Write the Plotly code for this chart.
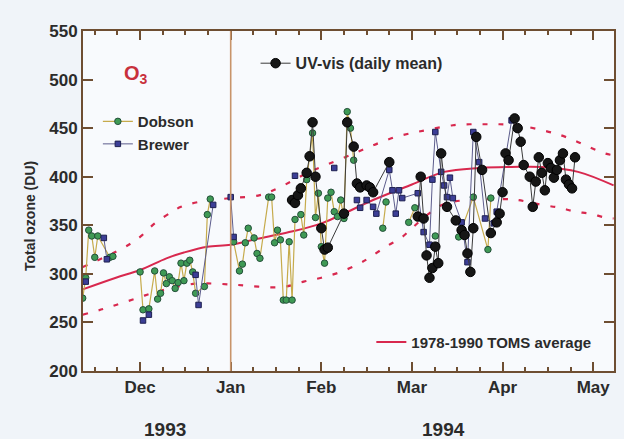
import datetime
import calendar
import plotly.graph_objects as go

# ---------------- data ----------------
dobson_dates = [
    "1993-11-12", "1993-11-13", "1993-11-14", "1993-11-15", "1993-11-16", "1993-11-17",
    "1993-11-21", "1993-11-22",
    "1993-12-01", "1993-12-02", "1993-12-04", "1993-12-06", "1993-12-07", "1993-12-08",
    "1993-12-09", "1993-12-10", "1993-12-11", "1993-12-12", "1993-12-13", "1993-12-14",
    "1993-12-15", "1993-12-16", "1993-12-17", "1993-12-18", "1993-12-19", "1993-12-20",
    "1993-12-23", "1993-12-24", "1993-12-25",
    "1994-01-02", "1994-01-04", "1994-01-05", "1994-01-06", "1994-01-07", "1994-01-09",
    "1994-01-10", "1994-01-11", "1994-01-14", "1994-01-15", "1994-01-16", "1994-01-17",
    "1994-01-18", "1994-01-19", "1994-01-20", "1994-01-21", "1994-01-22", "1994-01-23",
    "1994-01-25", "1994-01-26", "1994-01-27", "1994-01-29", "1994-01-30", "1994-01-31",
    "1994-02-01", "1994-02-02", "1994-02-03", "1994-02-04", "1994-02-05", "1994-02-06",
    "1994-02-07", "1994-02-08", "1994-02-09", "1994-02-10", "1994-02-11",
    "1994-02-20", "1994-02-21", "1994-02-28", "1994-03-02",
    "1994-03-09", "1994-03-17", "1994-03-22", "1994-03-27", "1994-03-28",
]
dobson_values = [
    275, 296, 345, 339, 317, 339,
    317, 318,
    302, 263, 264, 303, 274, 280,
    301, 290, 297, 293, 285, 291,
    311, 293, 311, 314, 302, 280,
    287, 361, 377,
    333, 303, 310, 332, 347, 337,
    321, 316, 379, 379, 332, 345,
    335, 273, 273, 333, 273, 356,
    361, 340, 397, 445, 358, 383,
    328, 311, 378, 384, 364, 359,
    376, 357, 467, 450, 417,
    347, 374, 353, 368,
    339, 338, 379, 325, 378,
]

brewer_dates = [
    "1993-11-13", "1993-11-19", "1993-11-20",
    "1993-12-02", "1993-12-04", "1993-12-20", "1993-12-21", "1993-12-26",
    "1994-01-01", "1994-01-02", "1994-01-23",
    "1994-02-05", "1994-02-12", "1994-02-13", "1994-02-15", "1994-02-17", "1994-02-18",
    "1994-02-22", "1994-02-23", "1994-02-24", "1994-02-25", "1994-02-26",
    "1994-03-03", "1994-03-05", "1994-03-07", "1994-03-08", "1994-03-09", "1994-03-11",
    "1994-03-12", "1994-03-13", "1994-03-14", "1994-03-15", "1994-03-18", "1994-03-20",
    "1994-03-22", "1994-03-24", "1994-03-26", "1994-03-29", "1994-03-30", "1994-04-04",
]
brewer_values = [
    292, 337, 315,
    252, 258, 299, 268, 371,
    379, 338, 401,
    409, 376, 368, 376, 369, 362,
    407, 386, 362, 386, 378,
    383, 343, 330, 397, 446, 405,
    391, 379, 399, 378, 353, 312,
    446, 415, 357, 352, 364, 458,
]

uvvis_dates = [
    "1994-01-22", "1994-01-23", "1994-01-24", "1994-01-25", "1994-01-27", "1994-01-28",
    "1994-01-29", "1994-01-30", "1994-02-01", "1994-02-02", "1994-02-03",
    "1994-02-08", "1994-02-09", "1994-02-11", "1994-02-12", "1994-02-13", "1994-02-15",
    "1994-02-16", "1994-02-17", "1994-02-22",
    "1994-03-03", "1994-03-04", "1994-03-05", "1994-03-06", "1994-03-07", "1994-03-08",
    "1994-03-09", "1994-03-10", "1994-03-11", "1994-03-13", "1994-03-16", "1994-03-18",
    "1994-03-19", "1994-03-20", "1994-03-21", "1994-03-22", "1994-03-23", "1994-03-25",
    "1994-03-28", "1994-03-30", "1994-03-31",
    "1994-04-01", "1994-04-02", "1994-04-03", "1994-04-05", "1994-04-06", "1994-04-07",
    "1994-04-08", "1994-04-10", "1994-04-11", "1994-04-12", "1994-04-13", "1994-04-14",
    "1994-04-15", "1994-04-16", "1994-04-17", "1994-04-18", "1994-04-19", "1994-04-20",
    "1994-04-21", "1994-04-22", "1994-04-23", "1994-04-24", "1994-04-25",
]
uvvis_values = [
    376, 373, 381, 388, 404, 421,
    456, 400, 347, 325, 327,
    362, 456, 431, 393, 389, 391,
    389, 384, 415,
    359, 400, 357, 319, 296, 306,
    328, 311, 424, 369, 355, 345,
    340, 321, 302, 347, 441, 407,
    342, 353, 362,
    384, 424, 417, 460, 450, 436,
    412, 400, 369, 395, 420, 404,
    386, 414, 409, 399, 407, 417,
    424, 397, 392, 388, 420,
]

toms_mean_dates = [
    "1993-11-12", "1993-11-23", "1993-12-01", "1993-12-10", "1993-12-16", "1993-12-24",
    "1994-01-01", "1994-01-10", "1994-01-21", "1994-02-01", "1994-02-17", "1994-03-01",
    "1994-03-12", "1994-03-24", "1994-04-04", "1994-04-14", "1994-04-26", "1994-05-08",
]
toms_mean_values = [
    284, 296, 304, 316, 322, 328,
    330, 336, 343, 352, 376, 392,
    405, 409, 410, 410, 405, 391,
]

toms_upper_dates = [
    "1993-11-12", "1993-11-25", "1993-12-01", "1993-12-06", "1993-12-12", "1993-12-15",
    "1993-12-21", "1994-01-01", "1994-01-11", "1994-01-17", "1994-01-28", "1994-02-01",
    "1994-02-14", "1994-02-19", "1994-02-24", "1994-03-01", "1994-03-06", "1994-03-15",
    "1994-03-21", "1994-03-26", "1994-03-31", "1994-04-06", "1994-04-14", "1994-04-20",
    "1994-04-25", "1994-04-30", "1994-05-05", "1994-05-08",
]
toms_upper_values = [
    307, 326, 338, 352, 364, 369,
    374, 378, 381, 388, 405, 410,
    428, 435, 441, 445, 448, 453,
    454, 454, 454, 453, 448, 443,
    437, 430, 424, 422,
]

toms_lower_dates = [
    "1993-11-12", "1993-11-19", "1993-11-25", "1993-12-01", "1993-12-06", "1993-12-20",
    "1993-12-26", "1994-01-01", "1994-01-06", "1994-01-15", "1994-01-20", "1994-01-26",
    "1994-02-01", "1994-02-07", "1994-02-13", "1994-02-16", "1994-02-21", "1994-02-26",
    "1994-03-01", "1994-03-06", "1994-03-12", "1994-03-20", "1994-04-01", "1994-04-06",
    "1994-04-14", "1994-04-20", "1994-04-25", "1994-04-30", "1994-05-05", "1994-05-08",
]
toms_lower_values = [
    258, 264, 270, 276, 281, 290,
    290, 289, 288, 286, 287, 292,
    296, 302, 311, 317, 328, 338,
    347, 360, 372, 376, 377, 376,
    371, 368, 364, 362, 358, 357,
]

month_labels = ["Dec", "Jan", "Feb", "Mar", "Apr", "May"]
year_labels = ["1993", "1994"]

# ---------------- helpers ----------------
def to_month(s):
    """Date -> month position on the axis (0 = 1 Dec 1993, 1 = 1 Jan 1994, ...)."""
    d = datetime.date.fromisoformat(s)
    idx = (d.year - 1993) * 12 + d.month - 12
    dim = calendar.monthrange(d.year, d.month)[1]
    return idx + (d.day - 1) / dim


def with_gaps(dates, vals, maxgap=5):
    xs, ys, prev = [], [], None
    for s, v in zip(dates, vals):
        d = datetime.date.fromisoformat(s)
        if prev is not None and (d - prev).days > maxgap:
            xs.append(None)
            ys.append(None)
        xs.append(to_month(s))
        ys.append(v)
        prev = d
    return xs, ys


FRAME = "#6e4e32"
RED = "#d8284e"
FONT = "Liberation Sans"

fig = go.Figure()

# TOMS climatology
fig.add_trace(go.Scatter(
    x=[to_month(s) for s in toms_upper_dates], y=toms_upper_values, mode="lines",
    line=dict(color=RED, width=2.2, dash="5px,11px", shape="spline"),
    showlegend=False, hoverinfo="skip"))
fig.add_trace(go.Scatter(
    x=[to_month(s) for s in toms_lower_dates], y=toms_lower_values, mode="lines",
    line=dict(color=RED, width=2.2, dash="5px,11px", shape="spline"),
    showlegend=False, hoverinfo="skip"))
fig.add_trace(go.Scatter(
    x=[to_month(s) for s in toms_mean_dates], y=toms_mean_values, mode="lines",
    line=dict(color=RED, width=2, shape="spline"),
    name="1978-1990 TOMS average", legend="legend3"))

# Dobson
dx, dy = with_gaps(dobson_dates, dobson_values)
fig.add_trace(go.Scatter(
    x=dx, y=dy, mode="lines+markers", name="Dobson", legend="legend",
    line=dict(color="#c6ab4c", width=1.2),
    marker=dict(symbol="circle", size=6.5, color="#3f9a55",
                line=dict(color="#24503a", width=1))))

# Brewer
bx, by = with_gaps(brewer_dates, brewer_values)
fig.add_trace(go.Scatter(
    x=bx, y=by, mode="lines+markers", name="Brewer", legend="legend",
    line=dict(color="#5c5c8c", width=1),
    marker=dict(symbol="square", size=5.5, color="#3c3e96",
                line=dict(color="#1e2050", width=1))))

# UV-vis
ux, uy = with_gaps(uvvis_dates, uvvis_values)
fig.add_trace(go.Scatter(
    x=ux, y=uy, mode="lines+markers", name="UV-vis (daily mean)", legend="legend2",
    line=dict(color="#3a3a3a", width=1),
    marker=dict(symbol="circle", size=9.5, color="#161616",
                line=dict(color="#000000", width=1))))

# year boundary
fig.add_shape(type="line", xref="x", yref="paper", x0=1, x1=1, y0=0, y1=1,
              line=dict(color="#c8946a", width=1.6))

fig.update_layout(
    width=624, height=439,
    margin=dict(l=83, r=8, t=31, b=68),
    paper_bgcolor="#f0f4f9", plot_bgcolor="#f8fafd",
    font=dict(family=FONT, color="#2b2b2b", size=15, weight="bold"),
    xaxis=dict(
        showline=True, linecolor=FRAME, linewidth=2, mirror="allticks",
        ticks="inside", tickcolor=FRAME, tickwidth=2, ticklen=9,
        range=[-0.63, 5.23],
        tickvals=list(range(len(month_labels))), ticktext=month_labels,
        minor=dict(dtick=0.25, tick0=0, ticks="inside", ticklen=4,
                   tickcolor=FRAME, tickwidth=1.5),
        showgrid=False, zeroline=False,
        tickfont=dict(size=17, family=FONT, weight="bold"),
    ),
    yaxis=dict(
        showline=True, linecolor=FRAME, linewidth=2, mirror="allticks",
        ticks="inside", tickcolor=FRAME, tickwidth=2, ticklen=10,
        range=[200, 550], dtick=50, tick0=200,
        showgrid=False, zeroline=False,
        tickfont=dict(size=17, family=FONT, weight="bold"),
    ),
    legend=dict(x=0.028, y=0.782, xanchor="left", yanchor="top",
                bgcolor="rgba(0,0,0,0)", font=dict(size=15, weight="bold"),
                tracegroupgap=0),
    legend2=dict(x=0.325, y=0.955, xanchor="left", yanchor="top",
                 bgcolor="rgba(0,0,0,0)", font=dict(size=16, weight="bold")),
    legend3=dict(x=0.543, y=0.133, xanchor="left", yanchor="top",
                 bgcolor="rgba(0,0,0,0)", font=dict(size=15, weight="bold")),
    annotations=[
        dict(text="O<sub>3</sub>", x=-0.05, y=505, xref="x", yref="y",
             showarrow=False, font=dict(size=20, color="#c8303c", weight="bold")),
        dict(text="Total ozone (DU)", textangle=-90, x=0, y=0.5, xref="paper",
             yref="paper", xshift=-63, yshift=-15, showarrow=False,
             font=dict(size=14, weight="bold")),
        dict(text=year_labels[0], x=0.275, y=0, xref="x", yref="paper",
             yshift=-58, showarrow=False, yanchor="middle",
             font=dict(size=19, weight="bold")),
        dict(text=year_labels[1], x=3.35, y=0, xref="x", yref="paper",
             yshift=-58, showarrow=False, yanchor="middle",
             font=dict(size=19, weight="bold")),
    ],
)

fig.write_html("out.html")
